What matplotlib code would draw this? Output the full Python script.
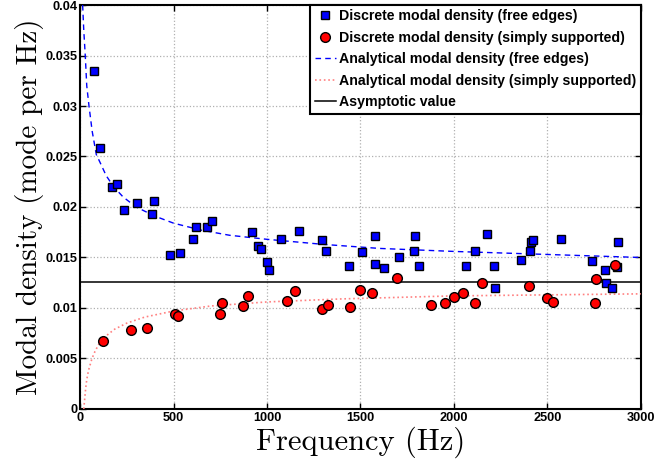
import matplotlib
matplotlib.use("Agg")
import matplotlib.pyplot as plt

# discrete modal density, free edges
f_free = [75, 109, 171, 196, 234, 307, 396, 387, 481, 536, 606, 619, 681, 708,
          922, 954, 966, 1002, 1009, 1077, 1169, 1292, 1317, 1438, 1508, 1578,
          1578, 1626, 1706, 1790, 1788, 1815, 2062, 2111, 2176, 2212, 2221,
          2360, 2408, 2410, 2424, 2570, 2740, 2809, 2814, 2843, 2870, 2877]
n_free = [0.0335, 0.0258, 0.02195, 0.02225, 0.0197, 0.02044, 0.0206, 0.0193,
          0.01523, 0.0154, 0.01681, 0.01797, 0.0180, 0.01862, 0.0175, 0.01609,
          0.01582, 0.01457, 0.01381, 0.01688, 0.01763, 0.01671, 0.01565,
          0.01417, 0.0155, 0.01717, 0.01437, 0.01394, 0.0150, 0.01714, 0.01569,
          0.01414, 0.01414, 0.01565, 0.01737, 0.01417, 0.01193, 0.01477,
          0.01565, 0.01655, 0.01678, 0.01684, 0.0147, 0.01378, 0.01243,
          0.01197, 0.01407, 0.01658]

# discrete modal density, simply supported
f_ss = [125, 274, 358, 506, 526, 749, 759, 873, 900, 1109, 1150, 1296, 1328,
        1445, 1499, 1560, 1697, 1876, 1950, 2000, 2046, 2111, 2151, 2401, 2499,
        2528, 2752, 2761, 2861]
n_ss = [0.0067, 0.00781, 0.00804, 0.00936, 0.00916, 0.00943, 0.01051, 0.01015,
        0.01114, 0.01065, 0.01167, 0.00989, 0.01028, 0.01006, 0.01177, 0.0115,
        0.01293, 0.01025, 0.01051, 0.01105, 0.01144, 0.01048, 0.01246, 0.01213,
        0.01101, 0.01061, 0.01051, 0.01286, 0.01421]

# analytical curves
fa_free = [14, 20, 28, 36, 48, 65, 87, 110, 140, 180, 230, 300, 400, 500, 650,
           800, 1000, 1300, 1600, 2000, 2500, 3000]
na_free = [0.0400, 0.0375, 0.0350, 0.0320, 0.0300, 0.0275, 0.0252, 0.0243,
           0.0231, 0.0220, 0.0210, 0.0200, 0.0191, 0.0184, 0.0177, 0.0172,
           0.0168, 0.0163, 0.0159, 0.0156, 0.0153, 0.0150]

fa_ss = [20, 25, 30, 36, 45, 64, 80, 100, 130, 185, 250, 346, 500, 700, 1000,
         1400, 2000, 2500, 3000]
na_ss = [0.0000, 0.0010, 0.0020, 0.0029, 0.0038, 0.0050, 0.0057, 0.0064,
         0.0071, 0.0079, 0.0085, 0.0091, 0.0097, 0.0102, 0.0106, 0.0109,
         0.0112, 0.0113, 0.0114]

asymptote = 0.0126

xticks = [0, 500, 1000, 1500, 2000, 2500, 3000]
yticks = [0, 0.005, 0.01, 0.015, 0.02, 0.025, 0.03, 0.035, 0.04]
ytick_labels = ['0', '0.005', '0.01', '0.015', '0.02', '0.025', '0.03',
                '0.035', '0.04']

tickfont = dict(family='Liberation Sans', weight='bold', size=9.2)

fig = plt.figure(figsize=(6.57, 4.68), dpi=100)
ax = fig.add_axes([0.1218, 0.1261, 0.8538, 0.8632])

ax.plot(f_free, n_free, 's', color='#0000ff', mec='black', mew=1.0, ms=5.5,
        label='Discrete modal density (free edges)', zorder=4)
ax.plot(f_ss, n_ss, 'o', color='#ff0000', mec='black', mew=1.0, ms=7,
        label='Discrete modal density (simply supported)', zorder=4)
ax.plot(fa_free, na_free, '--', color='#0000ff', lw=1.0, dashes=(4, 3),
        label='Analytical modal density (free edges)', zorder=3)
ax.plot(fa_ss, na_ss, ':', color='#ff8080', lw=1.2,
        label='Analytical modal density (simply supported)', zorder=3)
ax.axhline(asymptote, color='black', lw=1.1, label='Asymptotic value',
           zorder=3)

ax.set_xlim(0, 3000)
ax.set_ylim(0, 0.04)
ax.set_xticks(xticks)
ax.set_xticklabels([str(t) for t in xticks], fontdict=tickfont)
ax.set_yticks(yticks)
ax.set_yticklabels(ytick_labels, fontdict=tickfont)
ax.tick_params(direction='in', top=True, right=True, length=4, width=1,
               pad=2)
ax.grid(True, linestyle=':', color='#b0b0b0', lw=0.9)
for s in ax.spines.values():
    s.set_linewidth(1.5)

ax.set_xlabel('Frequency (Hz)', family='cmr10', size=22, labelpad=2)
ax.set_ylabel('Modal density (mode per Hz)', family='cmr10', size=21,
              labelpad=1)

leg = ax.legend(loc='upper right', borderaxespad=0, fancybox=False,
                framealpha=1, edgecolor='black', handlelength=1.5,
                handletextpad=0.25, labelspacing=0.53, borderpad=0.3,
                prop=dict(family='Liberation Sans', weight='bold', size=10.2))
leg.get_frame().set_linewidth(1.5)

fig.savefig('out.png', dpi=100)
